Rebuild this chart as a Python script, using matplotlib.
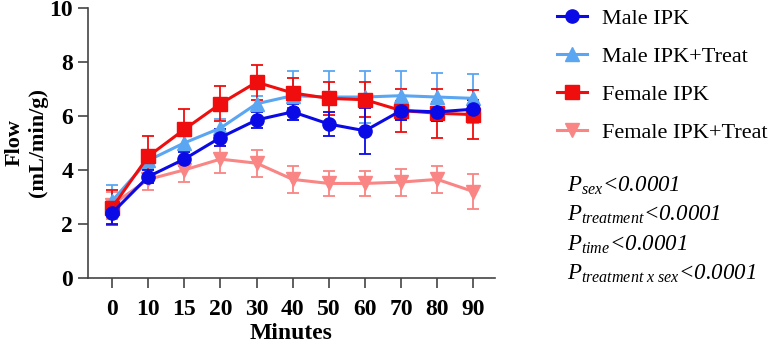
import matplotlib.pyplot as plt
from matplotlib.lines import Line2D
import numpy as np

plt.rcParams['font.family'] = 'Liberation Serif'
plt.rcParams['mathtext.fontset'] = 'custom'
plt.rcParams['mathtext.rm'] = 'Liberation Serif:italic'
plt.rcParams['mathtext.it'] = 'Liberation Serif:italic'

# data
minutes = ['0', '10', '15', '20', '30', '40', '50', '60', '70', '80', '90']

male_ipk = [2.4, 3.75, 4.4, 5.2, 5.85, 6.15, 5.7, 5.45, 6.2, 6.15, 6.25]
male_ipk_err = [0.4, 0.25, 0.25, 0.3, 0.3, 0.3, 0.45, 0.85, 0.35, 0.35, 0.35]

male_treat = [2.85, 4.35, 5.0, 5.55, 6.45, 6.75, 6.7, 6.7, 6.75, 6.7, 6.65]
male_treat_err = [0.6, 0.3, 0.3, 0.35, 0.3, 0.9, 0.95, 0.95, 0.9, 0.9, 0.9]

female_ipk = [2.6, 4.5, 5.5, 6.45, 7.25, 6.85, 6.65, 6.6, 6.2, 6.1, 6.05]
female_ipk_err = [0.65, 0.75, 0.75, 0.65, 0.65, 0.55, 0.6, 0.65, 0.8, 0.9, 0.9]

female_treat = [2.7, 3.65, 4.0, 4.4, 4.25, 3.65, 3.5, 3.5, 3.55, 3.65, 3.2]
female_treat_err = [0.5, 0.4, 0.45, 0.5, 0.5, 0.5, 0.45, 0.45, 0.5, 0.5, 0.65]

series = [
    ('Female IPK+Treat', female_treat, female_treat_err, '#f98585', 'v'),
    ('Male IPK+Treat', male_treat, male_treat_err, '#5aa6f2', '^'),
    ('Female IPK', female_ipk, female_ipk_err, '#f00d0d', 's'),
    ('Male IPK', male_ipk, male_ipk_err, '#0a0ae6', 'o'),
]
legend_order = ['Male IPK', 'Male IPK+Treat', 'Female IPK', 'Female IPK+Treat']

# plot
fig = plt.figure(figsize=(7.7, 3.44), dpi=100)
ax = fig.add_axes([0.114, 0.192, 0.529, 0.785])

x = np.arange(len(minutes))
handles = {}
for name, vals, errs, color, marker in series:
    ax.errorbar(x, vals, yerr=errs, color=color, marker=marker, markersize=9.5,
                linewidth=2.2, elinewidth=1.3, capsize=4.5, capthick=1.3)
    handles[name] = Line2D([], [], color=color, marker=marker, markersize=9.5,
                           linewidth=2.2)

ax.set_xlim(-0.67, 10.6)
ax.set_ylim(0, 10)
ax.set_yticks([0, 2, 4, 6, 8, 10])
ax.set_xticks(x)
ax.set_xticklabels(minutes)

for side in ['top', 'right']:
    ax.spines[side].set_visible(False)
for side in ['left', 'bottom']:
    ax.spines[side].set_color('#444444')
    ax.spines[side].set_linewidth(1.2)
ax.tick_params(axis='both', colors='#444444', width=1.2, length=7, labelcolor='black')
ax.tick_params(axis='x', pad=8)
for lbl in ax.get_xticklabels() + ax.get_yticklabels():
    lbl.set_fontsize(17)
    lbl.set_fontweight('bold')

ax.set_xlabel('Minutes', fontsize=17, fontweight='bold', labelpad=2)
fig.text(0.034, 0.585, 'Flow\n(mL/min/g)', fontsize=16, fontweight='bold',
         rotation=90, ha='center', va='center', linespacing=1.25)

# legend
fig.legend([handles[n] for n in legend_order], legend_order,
           loc='upper left', bbox_to_anchor=(0.723, 0.975), frameon=False,
           borderpad=0, borderaxespad=0,
           fontsize=16, labelspacing=0.78, handlelength=1.35, handletextpad=0.7)

# stats
stats = [r'$P_{sex}$<0.0001', r'$P_{treatment}$<0.0001', r'$P_{time}$<0.0001',
         r'$P_{treatment\ x\ sex}$<0.0001']
for i, s in enumerate(stats):
    fig.text(0.737, 0.46 - i * 0.0855, s, fontsize=16.5, style='italic', va='center')

plt.savefig('out.png')
